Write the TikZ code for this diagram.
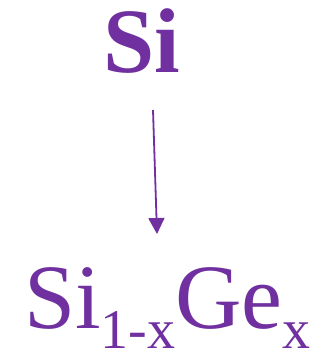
\documentclass[tikz,border=0pt]{standalone}
\usepackage{fontspec}
\setmainfont{Liberation Serif}
\usetikzlibrary{arrows.meta}
\definecolor{purp}{HTML}{7030A0}
\tikzset{
  lbl/.style={inner sep=0pt, outer sep=0pt, anchor=base west, text=purp},
  conn/.style={draw=purp, line width=1.8pt, -{Triangle[width=16pt,length=16pt]}}
}
\begin{document}
\begin{tikzpicture}[x=1pt,y=1pt]
\useasboundingbox (0,0) rectangle (335,358);
\node[lbl] (top) at (103,285) {\fontsize{92}{92}\selectfont\bfseries Si};
\node[lbl] (bot) at (24,29) {\fontsize{92}{92}\selectfont Si\raisebox{-20pt}{\fontsize{56}{56}\selectfont 1-x}Ge\raisebox{-20pt}{\fontsize{56}{56}\selectfont x}};
\coordinate (a) at (153,248);
\coordinate (b) at (157,124);
\draw[conn] (a) -- (b);
\end{tikzpicture}
\end{document}
